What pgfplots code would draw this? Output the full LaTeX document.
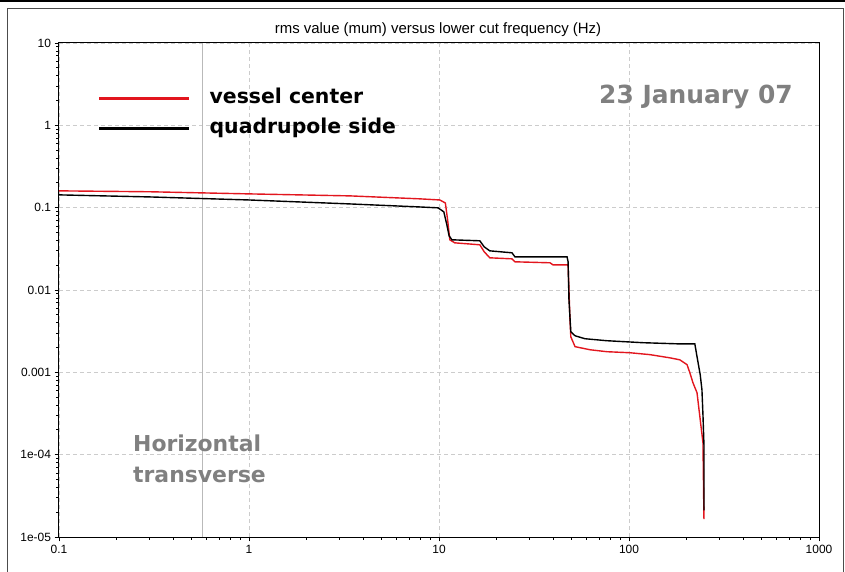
\documentclass[border=0pt]{standalone}
\usepackage{fontspec}
\setmainfont{Liberation Sans}
\newfontfamily\comic{DejaVu Sans}
\usepackage{pgfplots}
\pgfplotsset{compat=1.18}
\definecolor{curvered}{RGB}{226,22,30}
\definecolor{notegray}{RGB}{128,128,128}

\begin{document}
\begin{tikzpicture}[x=1bp,y=1bp]
  \path[use as bounding box] (0,0) rectangle (845,572);
  \draw[black,line width=1.5bp] (0,571) -- (845,571);
  \draw[black!70,line width=1bp] (7,563.5) rectangle (843,-3);
  \begin{axis}[
      at={(59bp,35bp)}, anchor=south west,
      scale only axis, width=760bp, height=494bp,
      xmode=log, ymode=log,
      xmin=0.1, xmax=1000, ymin=1e-5, ymax=10,
      axis line style={black,line width=1bp},
      tick style={black,line width=0.8bp},
      major tick length=4.5bp, minor tick length=3bp,
      tick align=outside, xtick pos=left, ytick pos=left,
      grid=major,
      major grid style={gray!40,dash pattern=on 4bp off 3bp,line width=0.7bp},
      xtick={0.1,1,10,100,1000},
      xticklabels={0.1,1,10,100,1000},
      ytick={1e-5,1e-4,1e-3,1e-2,0.1,1,10},
      yticklabels={1e-05,1e-04,0.001,0.01,0.1,1,10},
      minor xtick={0.2,0.3,0.4,0.5,0.6,0.7,0.8,0.9,2,3,4,5,6,7,8,9,20,30,40,50,60,70,80,90,200,300,400,500,600,700,800,900},
      minor ytick={2e-5,3e-5,4e-5,5e-5,6e-5,7e-5,8e-5,9e-5,2e-4,3e-4,4e-4,5e-4,6e-4,7e-4,8e-4,9e-4,2e-3,3e-3,4e-3,5e-3,6e-3,7e-3,8e-3,9e-3,0.02,0.03,0.04,0.05,0.06,0.07,0.08,0.09,0.2,0.3,0.4,0.5,0.6,0.7,0.8,0.9,2,3,4,5,6,7,8,9},
      tick label style={font=\fontsize{12}{12}\selectfont},
      legend style={at={(axis description cs:0.0513,0.908)},anchor=north west,
        draw=none,fill=none,inner sep=0pt,row sep=10bp,column sep=19bp,
        font=\comic\bfseries\fontsize{20.5}{24}\selectfont,
        nodes={inner sep=0pt,text height=15bp,text depth=5bp}},
      legend cell align={left},
      legend image code/.code={\draw[#1,line width=2.4bp] (0bp,0bp) -- (90bp,0bp);}
    ]
    % grey marker line
    \addplot[gray!55,line width=1bp,forget plot] coordinates {(0.566,1e-5) (0.566,10)};

    \addplot[curvered,line width=1.4bp] coordinates {
      (0.1,0.160) (0.3,0.156) (1.0,0.147) (3.4,0.139) (7.9,0.128) (10.1,0.124)
      (10.8,0.114) (11.1,0.0711) (11.4,0.0407) (12.1,0.0374) (16.4,0.0354)
      (17.3,0.0291) (18.5,0.0246) (24.2,0.0239) (25.1,0.022) (38.4,0.0214)
      (39.8,0.0202) (47.8,0.0202) (48.3,0.01) (48.9,0.00435) (49.4,0.0027)
      (52.0,0.00205) (62.4,0.00188) (76.6,0.00178) (101,0.00173) (129,0.00164)
      (164,0.0015) (185,0.00142) (202,0.00124) (209,0.00099) (217,0.000748)
      (228,0.000565) (237,0.000266) (245,0.00014) (248,1.65e-5)
    };
    \addlegendentry{vessel center}

    \addplot[black,line width=1.4bp] coordinates {
      (0.1,0.143) (0.3,0.135) (1.0,0.124) (3.4,0.111) (7.9,0.102) (9.88,0.0995)
      (10.6,0.089) (11.0,0.0618) (11.3,0.0455) (11.7,0.0407) (16.4,0.0396)
      (17.3,0.0334) (18.5,0.0299) (24.2,0.0283) (25.1,0.0253) (47.2,0.0253)
      (47.8,0.022) (48.3,0.0076) (49.4,0.00311) (52.0,0.00278) (58.6,0.00256)
      (76.6,0.00242) (118.5,0.00229) (179,0.00222) (222,0.00222) (228,0.00155)
      (237,0.000936) (242,0.000615) (245,0.000306) (248,0.000132) (248,2.1e-5)
    };
    \addlegendentry{quadrupole side}
  \end{axis}

  \node[font=\fontsize{15}{18}\selectfont] at (438,542)
    {rms value (mum) versus lower cut frequency (Hz)};
  \node[anchor=west,inner sep=0pt,text=notegray,
    font=\comic\bfseries\fontsize{25}{28}\selectfont] at (599,475) {23 January 07};
  \node[anchor=north west,align=left,inner sep=0pt,text=notegray,
    font=\comic\bfseries\fontsize{22}{31}\selectfont] at (133,137) {Horizontal\\transverse};
\end{tikzpicture}
\end{document}
